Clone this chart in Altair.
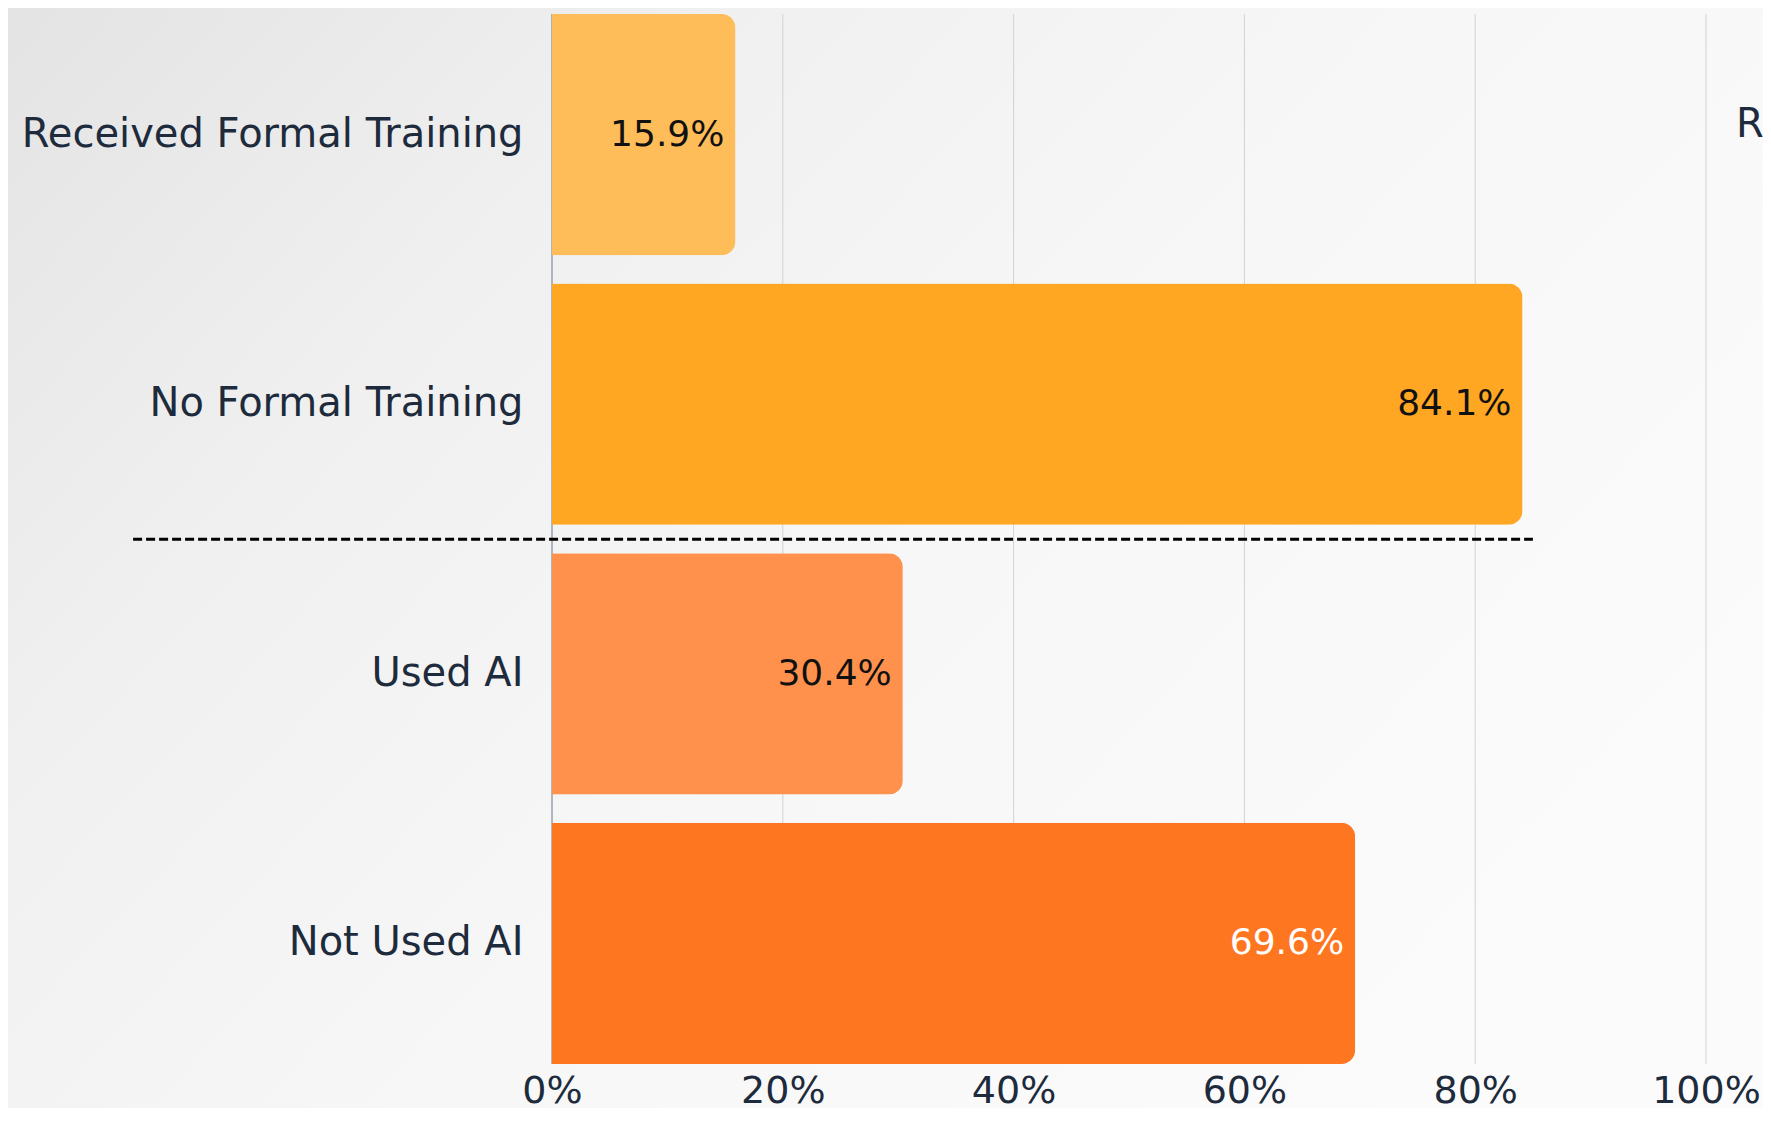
import altair as alt
import pandas as pd

# ---- data ----
categories = ["Received Formal Training", "No Formal Training", "Used AI", "Not Used AI"]
values = [15.9, 84.1, 30.4, 69.6]
value_labels = ["15.9%", "84.1%", "30.4%", "69.6%"]
bar_colors = ["#FFBD59", "#FFA623", "#FF914D", "#FF7620"]
label_colors = ["#111111", "#111111", "#111111", "#FFFFFF"]
tick_values = [0, 20, 40, 60, 80, 100]
divider_category = "Used AI"
divider_from = -36.3
divider_to = 85.0
side_note = "Received Formal Training"
side_note_x = 102.6

FONT = "DejaVu Sans"
NAVY = "#1d2b3c"

W, H = 1154, 1050

df = pd.DataFrame({
    "category": categories,
    "value": values,
    "label": value_labels,
    "labelColor": label_colors,
})

y_enc = alt.Y(
    "category:N",
    sort=categories,
    title=None,
    scale=alt.Scale(paddingInner=0.105, paddingOuter=0),
    axis=alt.Axis(
        labelFont=FONT, labelFontSize=40, labelColor=NAVY, labelPadding=29,
        domain=False, ticks=False, grid=False, zindex=1, labelLimit=800,
    ),
)
x_scale = alt.Scale(domain=[0, 100], nice=False, zero=True)
x_axis = alt.Axis(
    values=tick_values, labelExpr="datum.value + '%'",
    labelFont=FONT, labelFontSize=38, labelColor=NAVY, labelPadding=8,
    labelFlush=False, labelOverlap=False,
    domain=False, ticks=False, grid=False, zindex=1,
)

bg = alt.Chart(pd.DataFrame({"k": [0]})).mark_rect(
    color=alt.LinearGradient(
        gradient="linear",
        stops=[
            alt.GradientStop(offset=0, color="#e3e3e3"),
            alt.GradientStop(offset=0.3, color="#f0f0f0"),
            alt.GradientStop(offset=0.6, color="#f7f7f7"),
            alt.GradientStop(offset=1, color="#fbfbfb"),
        ],
        x1=0, y1=0, x2=1, y2=0.6,
    )
).encode(
    x=alt.value(-560), x2=alt.value(W + 80),
    y=alt.value(-20), y2=alt.value(H + 80),
)

grid_df = pd.DataFrame({
    "tick": tick_values,
    "gcolor": ["#6b7785"] + ["#d2d2d6"] * (len(tick_values) - 1),
})
grid = alt.Chart(grid_df).mark_rule(strokeWidth=1).encode(
    x=alt.X("tick:Q", scale=x_scale, axis=x_axis, title=None),
    y=alt.value(0), y2=alt.value(H),
    color=alt.Color("gcolor:N", scale=None),
)

bars = alt.Chart(df).mark_bar(cornerRadiusEnd=14).encode(
    y=y_enc,
    x=alt.X("value:Q", scale=x_scale, axis=x_axis, title=None),
    color=alt.Color("category:N", scale=alt.Scale(domain=categories, range=bar_colors), legend=None),
)

texts = alt.Chart(df).mark_text(
    align="right", baseline="middle", dx=-11, font=FONT, fontSize=36
).encode(
    y=y_enc,
    x=alt.X("value:Q", scale=x_scale, axis=x_axis, title=None),
    text="label:N",
    color=alt.Color("labelColor:N", scale=None),
)

div_df = pd.DataFrame({"category": [divider_category], "x0": [divider_from], "x1": [divider_to]})
divider = alt.Chart(div_df).mark_rule(
    color="#000000", strokeWidth=3, strokeDash=[9, 4], yOffset=-14
).encode(
    y=alt.Y("category:N", sort=categories, bandPosition=0, title=None),
    x=alt.X("x0:Q", scale=x_scale, title=None),
    x2="x1:Q",
)

note_df = pd.DataFrame({"category": [categories[0]], "nx": [side_note_x], "t": [side_note]})
note = alt.Chart(note_df).mark_text(
    align="left", baseline="middle", font=FONT, fontSize=40, color=NAVY
).encode(
    y=alt.Y("category:N", sort=categories, bandPosition=0.46, title=None),
    x=alt.X("nx:Q", scale=x_scale, title=None),
    text="t:N",
)

chart = alt.layer(bg, grid, bars, texts, divider, note).properties(
    width=W, height=H,
    autosize=alt.AutoSizeParams(type="none"),
    padding={"left": 544, "top": 6, "right": 57, "bottom": 44},
).configure_view(stroke=None).configure(background="#f6f6f6")

chart.save("out.html", embed_options={"renderer": "svg", "actions": False})
